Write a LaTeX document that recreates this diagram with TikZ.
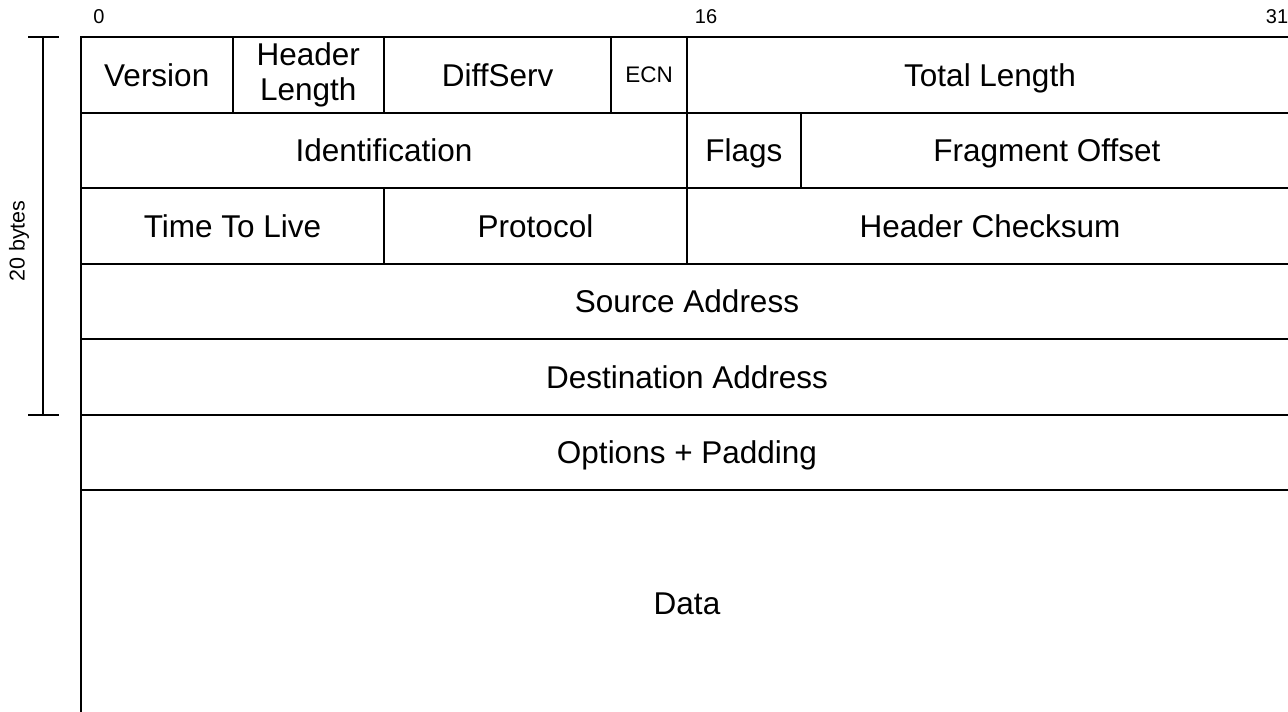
\documentclass[tikz,border=0pt]{standalone}
\usepackage{fontspec}
\setmainfont{Liberation Sans}
\tikzset{
  cell/.style={draw=black, line width=2pt, inner sep=0pt, align=center,
    font=\fontsize{31.5}{34.5}\selectfont, text height=22.6pt, text depth=0pt},
  bitlabel/.style={inner sep=0pt, font=\fontsize{20}{22}\selectfont},
  brace/.style={line width=2pt},
}
% \fld[style]{name}{start bit}{end bit}{row}{rows}{text}
\newcommand\fld[7][]{%
  \pgfmathsetmacro\fldw{(#4-#3)*37.875}%
  \pgfmathsetmacro\fldh{#6*75.5}%
  \pgfmathsetmacro\fldx{81+(#3+#4)/2*37.875}%
  \pgfmathsetmacro\fldy{37+(#5+#6/2)*75.5}%
  \node[cell, minimum width=\fldw pt, minimum height=\fldh pt, #1] (#2) at (\fldx,\fldy) {#7};%
}
\begin{document}
\begin{tikzpicture}[x=1pt,y=-1pt]
\useasboundingbox (0,0) rectangle (1288,712);
\clip (0,0) rectangle (1288,712);
% bit labels
\node[bitlabel] (b0) at (99,17) {0};
\node[bitlabel] (b16) at (706,17) {16};
\node[bitlabel] (b31) at (1277,17) {31};
% fields
\fld{ver}{0}{4}{0}{1}{Version}
\fld[text height=57.1pt, text depth=6.1pt]{hl}{4}{8}{0}{1}{Header\\Length}
\fld{ds}{8}{14}{0}{1}{DiffServ}
\fld[font=\fontsize{22.5}{25}\selectfont, text height=16.1pt]{ecn}{14}{16}{0}{1}{ECN}
\fld{tl}{16}{32}{0}{1}{Total Length}
\fld{id}{0}{16}{1}{1}{Identification}
\fld{flags}{16}{19}{1}{1}{Flags}
\fld{fo}{19}{32}{1}{1}{Fragment Offset}
\fld{ttl}{0}{8}{2}{1}{Time To Live}
\fld{proto}{8}{16}{2}{1}{Protocol}
\fld{hc}{16}{32}{2}{1}{Header Checksum}
\fld{src}{0}{32}{3}{1}{Source Address}
\fld{dst}{0}{32}{4}{1}{Destination Address}
\fld{opt}{0}{32}{5}{1}{Options + Padding}
\fld{data}{0}{32}{6}{3}{Data}
% 20 bytes bracket
\coordinate (bt) at (43,37);
\coordinate (bb) at (43,414.5);
\draw[brace] (bt) -- (bb);
\draw[brace] ([xshift=-15pt]bt) -- ([xshift=16pt]bt);
\draw[brace] ([xshift=-15pt]bb) -- ([xshift=16pt]bb);
\node[bitlabel, font=\fontsize{21.5}{24}\selectfont, rotate=90] (bytes) at (19,241) {20 bytes};
\end{tikzpicture}
\end{document}
